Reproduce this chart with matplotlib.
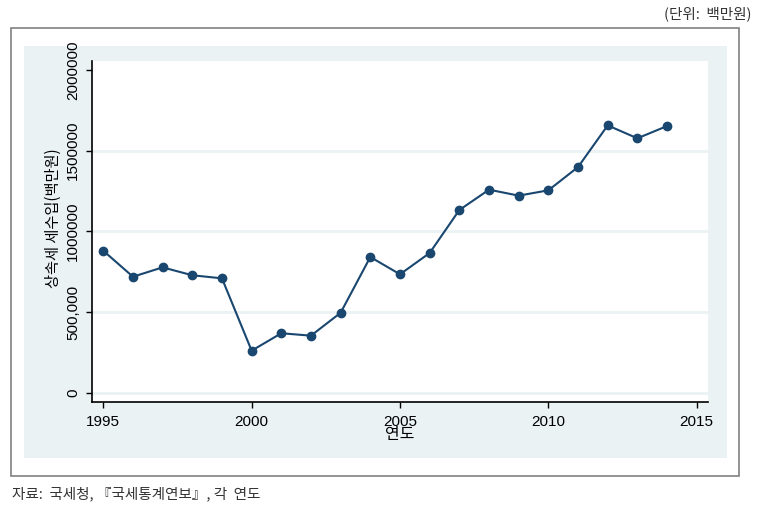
import matplotlib
matplotlib.use("Agg")
import matplotlib.pyplot as plt
from matplotlib.patches import Rectangle

years = [1995, 1996, 1997, 1998, 1999, 2000, 2001, 2002, 2003, 2004,
         2005, 2006, 2007, 2008, 2009, 2010, 2011, 2012, 2013, 2014]
revenue = [881000, 720000, 778000, 729000, 710000, 262000, 370000, 355000, 497000, 842000,
           735000, 867000, 1133000, 1259000, 1222000, 1255000, 1399000, 1657000, 1577000, 1653000]
xticks = [1995, 2000, 2005, 2010, 2015]
yticks = [0, 500000, 1000000, 1500000, 2000000]
ytick_labels = ["0", "500,000", "1000000", "1500000", "2000000"]
grid_vals = [0, 500000, 1000000, 1500000]
ylabel = "상속세 세수입(백만원)"
xlabel = "연도"
unit_text = "(단위:  백만원)"
source_text = "자료:  국세청, 『국세통계연보』, 각  연도"

W, H = 762, 522
fig = plt.figure(figsize=(W / 100, H / 100), dpi=100)
fig.patch.set_facecolor("white")

def fx(px):
    return px / W

def fy(py):
    return 1 - py / H

# outer gray frame
fig.add_artist(Rectangle((fx(11), fy(476)), fx(739) - fx(11), fy(28) - fy(476),
                         transform=fig.transFigure, facecolor="white",
                         edgecolor="#808080", lw=1.2, zorder=0))
# light blue-gray graph region
fig.add_artist(Rectangle((fx(24), fy(458)), fx(727) - fx(24), fy(46) - fy(458),
                         transform=fig.transFigure, facecolor="#EAF2F3",
                         edgecolor="none", zorder=0.5))

ax = fig.add_axes([fx(92), fy(402), fx(708) - fx(92), fy(61) - fy(402)])
ax.set_facecolor("white")
ax.set_zorder(2)

for g in grid_vals:
    ax.axhline(g, color="#EAF2F3", lw=2.0, zorder=1)

ax.plot(years, revenue, color="#1A476F", lw=1.5, marker="o", markersize=6,
        markerfacecolor="#1A476F", markeredgecolor="#1A476F", zorder=3)

ax.set_xlim(1994.62, 2015.38)
ax.set_ylim(-55700, 2055700)

ax.set_xticks(xticks)
ax.set_xticklabels([str(x) for x in xticks], fontfamily="Liberation Sans", fontsize=11)
ax.set_yticks(yticks)
ax.set_yticklabels(ytick_labels, fontfamily="Liberation Sans", fontsize=11,
                   rotation=90, va="center")

ax.tick_params(axis="both", direction="out", length=4.5, width=1.0, color="black")
ax.tick_params(axis="x", pad=5)
ax.tick_params(axis="y", pad=4)

for s in ["top", "right"]:
    ax.spines[s].set_visible(False)
for s in ["left", "bottom"]:
    ax.spines[s].set_linewidth(1.2)
    ax.spines[s].set_color("black")

fig.text(fx(53), fy(218), ylabel, rotation=90, ha="center", va="center",
         fontsize=11, family=["Noto Sans CJK KR", "DejaVu Sans"], zorder=5)
fig.text(fx(400), fy(435), xlabel, ha="center", va="center",
         fontsize=11.5, family=["Noto Sans CJK KR", "DejaVu Sans"], zorder=5)
fig.text(fx(751), fy(14), unit_text, ha="right", va="center",
         fontsize=10.5, color="#333333", family=["Noto Sans CJK KR", "DejaVu Sans"])
fig.text(fx(12), fy(494), source_text, ha="left", va="center",
         fontsize=10.5, color="#333333", family=["Noto Sans CJK KR", "DejaVu Sans"])

fig.savefig("out.png", dpi=100, facecolor="white")
